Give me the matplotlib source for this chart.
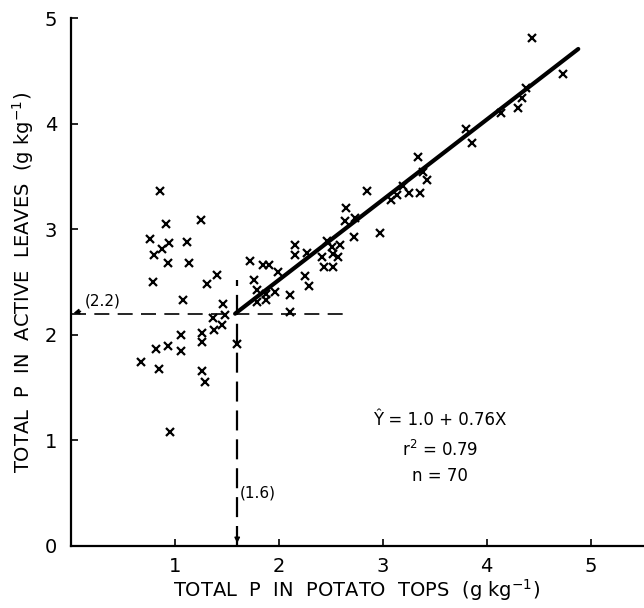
import numpy as np
import matplotlib.pyplot as plt

# total P in potato tops (x) and active leaves (y), g/kg
tops = [0.86, 0.92, 1.25, 0.76, 0.94, 0.88, 0.80, 1.12, 0.93, 1.14,
        0.79, 1.31, 1.41, 1.08, 1.46, 1.48, 1.37, 1.38, 1.45, 1.26,
        1.26, 1.06, 1.06, 0.93, 0.82, 0.67, 0.85, 1.26, 1.29, 0.95,
        1.60, 1.72, 1.85, 1.91, 1.99, 1.76, 1.79, 1.79, 1.88, 1.88,
        1.96, 2.11, 2.11, 2.16, 2.16, 2.27, 2.25, 2.29, 2.46, 2.51,
        2.59, 2.42, 2.52, 2.57, 2.43, 2.52, 2.65, 2.64, 2.73, 2.72,
        2.85, 2.97, 3.08, 3.14, 3.19, 3.25, 3.36, 3.34, 3.39, 3.43,
        3.80, 3.86, 4.14, 4.30, 4.34, 4.38, 4.44, 4.73]
leaves = [3.36, 3.05, 3.09, 2.91, 2.87, 2.81, 2.76, 2.88, 2.68, 2.68,
          2.50, 2.48, 2.57, 2.33, 2.29, 2.19, 2.16, 2.05, 2.09, 2.02,
          1.93, 2.00, 1.85, 1.89, 1.87, 1.74, 1.68, 1.66, 1.55, 1.08,
          1.91, 2.70, 2.66, 2.66, 2.60, 2.52, 2.43, 2.31, 2.39, 2.33,
          2.41, 2.38, 2.22, 2.85, 2.76, 2.78, 2.56, 2.46, 2.89, 2.83,
          2.85, 2.74, 2.77, 2.74, 2.64, 2.64, 3.20, 3.08, 3.11, 2.93,
          3.36, 2.97, 3.28, 3.33, 3.41, 3.34, 3.34, 3.69, 3.54, 3.47,
          3.95, 3.82, 4.10, 4.15, 4.24, 4.34, 4.81, 4.47]

# regression Y = 1.0 + 0.76X, drawn above the critical point
intercept = 1.0
slope = 0.76
fit_start = 1.58
fit_end = 4.88
crit_x = 1.6
crit_y = 2.2

fig = plt.figure(figsize=(6.44, 6.08), dpi=100)
ax = fig.add_axes([0.110, 0.102, 0.888, 0.868])

ax.plot(tops, leaves, 'x', color='black', markersize=6, markeredgewidth=1.6)

xf = np.linspace(fit_start, fit_end, 50)
ax.plot(xf, intercept + slope * xf, color='black', lw=3, solid_capstyle='round')

# critical level guides
ax.plot([0, 2.63], [crit_y, crit_y], color='black', lw=1.2, linestyle=(0, (9, 5)))
ax.plot([crit_x, crit_x], [0, 2.52], color='black', lw=1.6, linestyle=(0, (9, 4)))
ax.annotate('', xy=(0.0, crit_y), xytext=(0.12, crit_y + 0.03),
            arrowprops=dict(arrowstyle='-|>', color='black', lw=1, mutation_scale=8))
ax.annotate('', xy=(crit_x, 0.0), xytext=(crit_x, 0.17),
            arrowprops=dict(arrowstyle='-|>', color='black', lw=1, mutation_scale=8))
ax.text(0.13, crit_y + 0.05, '(2.2)', fontsize=11, va='bottom', ha='left')
ax.text(crit_x + 0.02, 0.5, '(1.6)', fontsize=11, va='center', ha='left')

ax.text(3.55, 1.19, 'Ŷ = 1.0 + 0.76X', fontsize=12, ha='center', va='center')
ax.text(3.55, 0.91, 'r$^2$ = 0.79', fontsize=12, ha='center', va='center')
ax.text(3.55, 0.66, 'n = 70', fontsize=12, ha='center', va='center')

ax.set_xlim(0, 5.5)
ax.set_ylim(0, 5)
ax.set_xticks([1, 2, 3, 4, 5])
ax.set_yticks([0, 1, 2, 3, 4, 5])
ax.spines['top'].set_visible(False)
ax.spines['right'].set_visible(False)
ax.spines['left'].set_linewidth(1.6)
ax.spines['bottom'].set_linewidth(1.6)
ax.tick_params(direction='in', length=5, width=1.2, labelsize=14)
ax.tick_params(axis='x', pad=8)
ax.tick_params(axis='y', pad=10)

ax.set_xlabel('TOTAL  P  IN  POTATO  TOPS  (g kg$^{-1}$)', fontsize=14, labelpad=1)
ax.set_ylabel('TOTAL  P  IN  ACTIVE  LEAVES  (g kg$^{-1}$)', fontsize=14, labelpad=6)

fig.savefig('out.png', dpi=100)
